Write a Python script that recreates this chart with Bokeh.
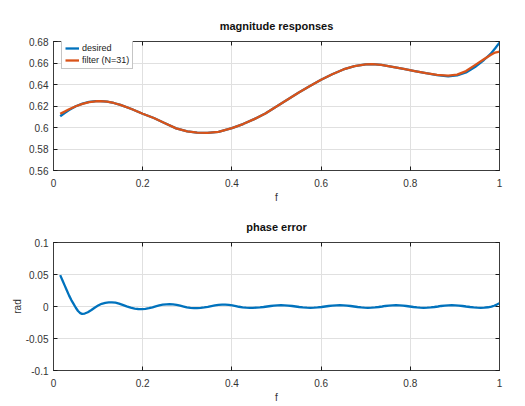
from bokeh.plotting import figure
from bokeh.models import Range1d, FixedTicker, LinearAxis, Legend, LegendItem
from bokeh.layouts import column
from bokeh.embed import file_html
from bokeh.resources import INLINE

# ---- data ----
f_mag = [0.015, 0.025, 0.035, 0.05, 0.065, 0.08, 0.095, 0.105, 0.12, 0.135, 0.15,
         0.175, 0.2, 0.225, 0.25, 0.275, 0.3, 0.322, 0.345, 0.37, 0.4, 0.425, 0.45,
         0.475, 0.5, 0.525, 0.55, 0.575, 0.6, 0.625, 0.65, 0.675, 0.7, 0.715, 0.735,
         0.76, 0.785, 0.81, 0.835, 0.86, 0.885, 0.905, 0.925, 0.945, 0.965, 0.98,
         0.99, 1.0]
desired = [0.6105, 0.6135, 0.6163, 0.6198, 0.6222, 0.6238, 0.6245, 0.6246, 0.6240,
           0.6228, 0.6210, 0.6172, 0.6128, 0.6088, 0.6040, 0.5992, 0.5963, 0.5952,
           0.5950, 0.5960, 0.5994, 0.6032, 0.6078, 0.6130, 0.6195, 0.6260, 0.6325,
           0.6385, 0.6444, 0.6495, 0.6540, 0.6570, 0.6587, 0.6590, 0.6583, 0.6565,
           0.6545, 0.6525, 0.6505, 0.6488, 0.6476, 0.6484, 0.6512, 0.6562, 0.6628,
           0.6685, 0.6735, 0.6790]
filt = [0.6128, 0.6148, 0.6170, 0.6198, 0.6220, 0.6236, 0.6244, 0.6246, 0.6240,
        0.6228, 0.6210, 0.6172, 0.6128, 0.6088, 0.6040, 0.5992, 0.5963, 0.5952,
        0.5950, 0.5960, 0.5994, 0.6032, 0.6078, 0.6130, 0.6195, 0.6260, 0.6325,
        0.6385, 0.6444, 0.6495, 0.6540, 0.6570, 0.6587, 0.6590, 0.6583, 0.6565,
        0.6545, 0.6525, 0.6505, 0.6490, 0.6482, 0.6492, 0.6525, 0.6580, 0.6635,
        0.6675, 0.6697, 0.6705]

f_ph = [0.015, 0.020, 0.025, 0.030, 0.035, 0.040, 0.045, 0.050, 0.055, 0.060, 0.064,
        0.070, 0.077, 0.085, 0.093, 0.100, 0.108, 0.116, 0.124, 0.131, 0.139, 0.147,
        0.155, 0.164, 0.173, 0.182, 0.190, 0.198, 0.206, 0.214, 0.222, 0.229, 0.237,
        0.245, 0.253, 0.260, 0.268, 0.276, 0.284, 0.292, 0.299, 0.307, 0.315, 0.322,
        0.330, 0.338, 0.346, 0.354, 0.362, 0.370, 0.378, 0.385, 0.393, 0.401, 0.409,
        0.416, 0.424, 0.432, 0.440, 0.447, 0.455, 0.463, 0.471, 0.479, 0.487, 0.494,
        0.502, 0.510, 0.518, 0.526, 0.535, 0.543, 0.551, 0.559, 0.568, 0.576, 0.584,
        0.592, 0.601, 0.609, 0.617, 0.625, 0.634, 0.642, 0.650, 0.658, 0.666, 0.674,
        0.682, 0.690, 0.697, 0.705, 0.713, 0.721, 0.729, 0.737, 0.744, 0.752, 0.760,
        0.768, 0.776, 0.784, 0.791, 0.799, 0.807, 0.815, 0.822, 0.830, 0.838, 0.846,
        0.854, 0.862, 0.869, 0.877, 0.885, 0.893, 0.901, 0.909, 0.917, 0.925, 0.934,
        0.942, 0.950, 0.958, 0.966, 0.974, 0.982, 0.988, 0.994, 1.000]
phase_err = [0.049, 0.041, 0.033, 0.025, 0.017, 0.010, 0.004, -0.002, -0.007, -0.0103,
             -0.0115, -0.011, -0.009, -0.0055, -0.0015, 0.0015, 0.0042, 0.0058, 0.0064,
             0.0065, 0.006, 0.0045, 0.0025, 0.0002, -0.0018, -0.0032, -0.0039, -0.004,
             -0.0037, -0.0027, -0.0013, 0.0002, 0.0017, 0.0028, 0.0034, 0.0035, 0.0032,
             0.0024, 0.0012, -0.0001, -0.0013, -0.0021, -0.0025, -0.0025, -0.0022,
             -0.0015, -0.0005, 0.0006, 0.0016, 0.0024, 0.0028, 0.0028, 0.0025, 0.0017,
             0.0007, -0.0004, -0.0013, -0.0019, -0.0021, -0.002, -0.0018, -0.0014,
             -0.0008, 0.0, 0.0008, 0.0014, 0.0019, 0.0021, 0.0019, 0.0014, 0.0008, 0.0,
             -0.0008, -0.0014, -0.0018, -0.002, -0.0018, -0.0014, -0.0008, 0.0, 0.0008,
             0.0014, 0.0019, 0.0021, 0.0019, 0.0014, 0.0008, 0.0, -0.0008, -0.0014,
             -0.0018, -0.002, -0.0018, -0.0014, -0.0008, 0.0, 0.0008, 0.0014, 0.0018,
             0.002, 0.0018, 0.0014, 0.0008, 0.0, -0.0008, -0.0014, -0.0018, -0.002,
             -0.0018, -0.0014, -0.0008, 0.0, 0.0008, 0.0014, 0.0018, 0.002, 0.0018,
             0.0014, 0.0008, 0.0, -0.0008, -0.0014, -0.0018, -0.002, -0.0018, -0.0012,
             -0.0002, 0.0012, 0.003, 0.005]

x_ticks = [0, 0.2, 0.4, 0.6, 0.8, 1.0]
x_labels = ["0", "0.2", "0.4", "0.6", "0.8", "1"]
mag_ticks = [0.56, 0.58, 0.6, 0.62, 0.64, 0.66, 0.68]
mag_labels = ["0.56", "0.58", "0.6", "0.62", "0.64", "0.66", "0.68"]
ph_ticks = [-0.1, -0.05, 0, 0.05, 0.1]
ph_labels = ["-0.1", "-0.05", "0", "0.05", "0.1"]

BLUE = "#0072BD"
ORANGE = "#D95319"
FONT = "Liberation Sans"
AXC = "#3c3c3c"


def style_axis(ax, ticks, labels, show_labels=True):
    ax.ticker = FixedTicker(ticks=ticks, minor_ticks=[])
    ax.major_tick_in = 4
    ax.major_tick_out = 0
    ax.minor_tick_in = 0
    ax.minor_tick_out = 0
    ax.axis_line_color = AXC
    ax.major_tick_line_color = "#1a1a1a"
    ax.major_label_text_font = FONT
    ax.major_label_text_color = "#333333"
    ax.major_label_standoff = 5
    ax.axis_label_text_font = FONT
    ax.axis_label_text_font_size = "10px"
    ax.axis_label_text_font_style = "normal"
    ax.axis_label_text_color = "#333333"
    if show_labels:
        ax.major_label_overrides = {t: l for t, l in zip(ticks, labels)}
        ax.major_label_text_font_size = "10px"
    else:
        ax.major_label_overrides = {t: "" for t in ticks}
        ax.major_label_text_font_size = "1px"
        ax.major_label_standoff = 0


def make_fig(title, yr, yticks, ylabels, height, top_border, bottom):
    p = figure(width=520, height=height, output_backend="svg", toolbar_location=None,
               x_range=Range1d(0, 1), y_range=Range1d(*yr),
               min_border_left=53, min_border_right=21, min_border_top=top_border,
               min_border_bottom=bottom)
    p.title.text = title
    p.title.align = "center"
    p.title.text_font = FONT
    p.title.text_font_size = "11px"
    p.title.text_font_style = "bold"
    p.title.text_color = "#111111"
    p.title.standoff = 20
    style_axis(p.xaxis[0], x_ticks, x_labels)
    style_axis(p.yaxis[0], yticks, ylabels)
    p.xaxis[0].axis_label = "f"
    p.xaxis[0].axis_label_standoff = 2
    p.xaxis[0].major_label_standoff = 8
    top = LinearAxis()
    style_axis(top, x_ticks, x_labels, show_labels=False)
    p.add_layout(top, "above")
    right = LinearAxis()
    style_axis(right, yticks, ylabels, show_labels=False)
    p.add_layout(right, "right")
    p.xgrid.ticker = FixedTicker(ticks=x_ticks)
    p.ygrid.ticker = FixedTicker(ticks=yticks)
    p.grid.grid_line_color = "#e0e0e0"
    p.grid.grid_line_width = 1
    p.outline_line_color = AXC
    p.background_fill_color = "white"
    p.border_fill_color = "white"
    return p


p1 = make_fig("magnitude responses", (0.56, 0.68), mag_ticks, mag_labels, 208, 41, 38)
r1 = p1.line(f_mag, desired, line_color=BLUE, line_width=2.3)
r2 = p1.line(f_mag, filt, line_color=ORANGE, line_width=2.3)
legend = Legend(items=[LegendItem(label="desired", renderers=[r1]),
                       LegendItem(label="filter (N=31)", renderers=[r2])],
                location=(8, 101))
legend.label_text_font = FONT
legend.label_text_font_size = "9px"
legend.label_text_color = "#222222"
legend.label_height = 10
legend.label_width = 10
legend.glyph_width = 14
legend.glyph_height = 10
legend.label_standoff = 3
legend.spacing = 2
legend.padding = 3
legend.margin = 0
legend.border_line_color = "#8c8c8c"
legend.background_fill_alpha = 1.0
p1.add_layout(legend, "center")

p2 = make_fig("phase error", (-0.1, 0.1), ph_ticks, ph_labels, 197, 33, 35)
p2.yaxis[0].axis_label = "rad"
p2.yaxis[0].axis_label_standoff = 0
p2.line(f_ph, phase_err, line_color=BLUE, line_width=2.3)

layout = column(p1, p2, spacing=0)
open("out.html", "w").write(file_html(layout, INLINE))
